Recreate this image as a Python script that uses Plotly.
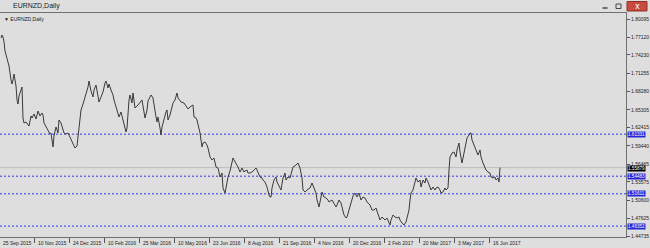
import plotly.graph_objects as go

# ---------------- data ----------------
bar_index = [0,1,2,3,4,5,7,8,10,11,12,13,14,15,16,17,18,19,20,21,22,23,25,27,28,30,31,33,35,37,39,41,42,43,45,47,49,50,52,53,55,57,58,60,62,63,65,67,68,70,72,74,76,78,80,82,84,85,87,88,90,92,93,95,96,97,98,100,102,104,105,107,108,110,112,113,115,117,118,120,122,123,
             124,125,126,127,128,129,130,131,132,133,134,137,139,141,142,144,146,147,149,150,152,154,155,156,157,159,160,161,163,165,166,167,169,171,172,174,176,177,179,180,183,185,187,189,192,193,195,196,197,199,201,202,204,206,207,209,211,213,215,217,219,220,221,222,223,224,225,226,227,229,230,232,233,235,237,239,240,241,243,244,246,247,
             249,251,253,255,256,258,259,261,262,264,266,268,269,270,271,273,275,276,278,280,282,284,285,287,289,291,292,295,297,299,300,301,302,304,306,309,311,313,315,316,318,320,321,323,325,327,328,331,333,335,336,338,340,341,343,345,346,348,350,351,352,354,356,358,360,362,364,366,368,369,371,
             373,375,377,379,381,384,386,388,389,390,392,394,396,398,399,401,403,405,406,408,409,410,412,414,415,417,419,420,422,424,425,427,429,430,432,434,435,437,439,440,442,444,445,447,448,449,451,453,455,456,458,459,461,463,465,466,468,469,470,471,473,475,477,479,480,482,484,485,487,489,490,492,494,495,497,498,499]

close = [1.7700,1.7749,1.7716,1.7635,1.7488,1.7423,1.7309,1.7244,1.7016,1.6950,1.7016,1.7113,1.7016,1.6918,1.6690,1.6624,1.6755,1.6820,1.6853,1.6901,1.6396,1.6315,1.6331,1.6282,1.6266,1.6429,1.6396,1.6462,1.6380,1.6510,1.6429,1.6478,1.6445,1.6315,1.6250,1.6184,1.6136,1.6152,1.5924,1.6103,1.6250,1.6152,1.6364,1.6315,1.6201,1.6152,1.6136,1.6152,1.6119,1.6038,1.5989,1.5907,1.5940,1.6201,1.6527,1.6624,1.6722,1.6771,1.6901,1.6999,1.6836,1.6739,1.6853,1.6934,1.6820,1.6739,1.6657,1.6739,1.6820,1.6967,1.6999,1.6885,1.6950,1.6853,1.6771,1.6690,1.6576,1.6462,1.6413,1.6494,1.6364,1.6266,
         1.6184,1.6168,1.6233,1.6494,1.6690,1.6771,1.6690,1.6641,1.6804,1.6690,1.6559,1.6608,1.6641,1.6690,1.6592,1.6396,1.6527,1.6673,1.6739,1.6771,1.6722,1.6478,1.6413,1.6331,1.6413,1.6233,1.6119,1.6250,1.6396,1.6494,1.6527,1.6364,1.6445,1.6576,1.6641,1.6690,1.6804,1.6722,1.6673,1.6657,1.6641,1.6592,1.6543,1.6576,1.6608,1.6413,1.6396,1.6364,1.6282,1.6152,1.5924,1.5989,1.6005,1.5956,1.5907,1.5761,1.5712,1.5745,1.5598,1.5582,1.5435,1.5468,1.5500,1.5256,1.5190,1.5174,1.5256,1.5337,1.5435,1.5533,1.5598,1.5745,1.5712,1.5663,1.5598,1.5516,1.5549,1.5582,1.5516,1.5533,1.5549,1.5500,
         1.5500,1.5516,1.5549,1.5582,1.5549,1.5484,1.5435,1.5419,1.5386,1.5353,1.5272,1.5142,1.5109,1.5109,1.5256,1.5386,1.5435,1.5353,1.5272,1.5223,1.5419,1.5500,1.5386,1.5435,1.5419,1.5549,1.5598,1.5630,1.5663,1.5582,1.5516,1.5419,1.5223,1.5190,1.5223,1.5256,1.5337,1.5256,1.5174,1.5060,1.4946,1.5109,1.5190,1.5109,1.5093,1.5060,1.5028,1.5060,1.5011,1.4946,1.4979,1.5060,1.5011,1.4930,1.4816,1.4767,1.4783,1.4897,1.5028,1.5093,1.5125,1.5174,1.5109,1.5174,1.5060,1.5109,1.5093,1.5028,1.4995,1.4979,1.4897,
         1.4897,1.4930,1.4848,1.4734,1.4783,1.4734,1.4767,1.4702,1.4653,1.4734,1.4816,1.4783,1.4767,1.4783,1.4734,1.4685,1.4653,1.4702,1.4767,1.4897,1.5060,1.5174,1.5223,1.5337,1.5419,1.5353,1.5386,1.5272,1.5386,1.5337,1.5419,1.5353,1.5272,1.5223,1.5272,1.5223,1.5256,1.5272,1.5223,1.5174,1.5190,1.5256,1.5223,1.5256,1.5549,1.5761,1.5826,1.5842,1.5761,1.5875,1.5989,1.5842,1.5663,1.5826,1.5956,1.6070,1.6119,1.6152,1.6152,1.6038,1.5956,1.5875,1.5793,1.5875,1.5761,1.5663,1.5582,1.5549,1.5516,1.5500,1.5435,1.5419,1.5435,1.5386,1.5419,1.5353,1.5588]

price_ticks = [1.80095, 1.77120, 1.74230, 1.71255, 1.68280, 1.65305, 1.62415,
               1.59440, 1.56465, 1.53575, 1.50600, 1.47625, 1.44735]

date_tick_bars = [0, 35, 70, 105, 140, 175, 210, 245, 280, 315, 350, 385, 420, 455, 490]
date_labels = ["25 Sep 2015", "10 Nov 2015", "24 Dec 2015", "10 Feb 2016", "25 Mar 2016",
               "10 May 2016", "23 Jun 2016", "8 Aug 2016", "21 Sep 2016", "4 Nov 2016",
               "20 Dec 2016", "2 Feb 2017", "20 Mar 2017", "3 May 2017", "16 Jun 2017"]

level_lines = [1.61331, 1.54483, 1.51611, 1.46352]
current_price = 1.55879

symbol_title = "EURNZD,Daily"

# ---------------- layout geometry ----------------
W, H = 650, 248
PL, PR, PT, PB = 0, 626, 13, 237
FONT = "Liberation Sans"
BG = "#DEDEDE"


def pxx(px):
    return (px - PL) / (PR - PL)


def pxy(py):
    return (PB - py) / (PB - PT)


fig = go.Figure()

# current price (bid) line
fig.add_shape(type="line", xref="paper", yref="y", x0=0, x1=1,
              y0=current_price, y1=current_price,
              line=dict(color="#BDBDBD", width=1), layer="below")

# horizontal level lines
for lv in level_lines:
    fig.add_shape(type="line", xref="paper", yref="y", x0=0, x1=1, y0=lv, y1=lv,
                  line=dict(color="#3434E8", width=1, dash="2px,2px"), layer="below")

fig.add_trace(go.Scatter(x=bar_index, y=close, mode="lines",
                         line=dict(color="#3A3A3A", width=1),
                         hoverinfo="skip", showlegend=False))

shapes = []
# title bar
shapes.append(dict(type="rect", xref="paper", yref="paper", x0=pxx(0), x1=pxx(W),
                   y0=pxy(6), y1=pxy(-1), fillcolor="#E2E9F2", line=dict(width=0)))
shapes.append(dict(type="rect", xref="paper", yref="paper", x0=pxx(0), x1=pxx(W),
                   y0=pxy(12.5), y1=pxy(6), fillcolor="#D3DCE9", line=dict(width=0)))
# title icon
shapes.append(dict(type="rect", xref="paper", yref="paper", x0=pxx(1.5), x1=pxx(9),
                   y0=pxy(10), y1=pxy(3), fillcolor="#7C9CD0", line=dict(color="#4A6AA0", width=1)))
# window buttons
for (a, b) in [(599, 611), (613, 624)]:
    shapes.append(dict(type="rect", xref="paper", yref="paper", x0=pxx(a), x1=pxx(b),
                       y0=pxy(11), y1=pxy(1.5), fillcolor="#DCE4EF",
                       line=dict(color="#8E9CB2", width=1)))
shapes.append(dict(type="line", xref="paper", yref="paper", x0=pxx(602.5), x1=pxx(607.5),
                   y0=pxy(8), y1=pxy(8), line=dict(color="#404850", width=1.5)))
shapes.append(dict(type="rect", xref="paper", yref="paper", x0=pxx(616), x1=pxx(621),
                   y0=pxy(8.5), y1=pxy(4), line=dict(color="#404850", width=1)))
shapes.append(dict(type="rect", xref="paper", yref="paper", x0=pxx(627), x1=pxx(647),
                   y0=pxy(11), y1=pxy(1.5), fillcolor="#C94A3E",
                   line=dict(color="#8E3028", width=1)))

annotations = []
annotations.append(dict(x=pxx(637), y=pxy(6.3), xref="paper", yref="paper", text="x",
                        showarrow=False, font=dict(family="DejaVu Sans", size=8, color="white"),
                        xanchor="center", yanchor="middle"))
annotations.append(dict(x=pxx(11), y=pxy(6.5), xref="paper", yref="paper", text=symbol_title,
                        showarrow=False, font=dict(family=FONT, size=7, color="#1A1A1A"),
                        xanchor="left", yanchor="middle"))
annotations.append(dict(x=pxx(2), y=pxy(19), xref="paper", yref="paper",
                        text="\u25bc " + symbol_title,
                        showarrow=False, font=dict(family=FONT, size=5, color="#1A1A1A"),
                        xanchor="left", yanchor="middle"))

# date labels (left aligned next to tick marks)
for b, t in zip(date_tick_bars, date_labels):
    annotations.append(dict(x=b - 0.5, y=pxy(242.5), xref="x", yref="paper", text=t,
                            showarrow=False, font=dict(family=FONT, size=5, color="#222222"),
                            xanchor="left", yanchor="middle"))

# price boxes
for lv in level_lines:
    annotations.append(dict(x=1, y=lv, xref="paper", yref="y", text=f"{lv:.5f}",
                            showarrow=False, font=dict(family=FONT, size=4.6, color="white"),
                            xanchor="left", yanchor="middle", bgcolor="#2626D8",
                            borderpad=0, xshift=1))
annotations.append(dict(x=1, y=current_price, xref="paper", yref="y",
                        text=f"{current_price:.5f}",
                        showarrow=False, font=dict(family=FONT, size=4.6, color="white"),
                        xanchor="left", yanchor="middle", bgcolor="#000000",
                        borderpad=0, xshift=1, yshift=-0.5))

y_top = 1.80095 + (19 - PT) * 0.0016295
y_bot = 1.80095 - (PB - 19) * 0.0016295

fig.update_layout(
    width=W, height=H,
    margin=dict(l=PL, r=W - PR, t=PT, b=H - PB, pad=0),
    paper_bgcolor=BG, plot_bgcolor=BG,
    showlegend=False,
    shapes=shapes,
    annotations=annotations,
    xaxis=dict(range=[-1, PR - PL - 1], showgrid=False, zeroline=False,
               showline=True, mirror=True, linecolor="#707070", linewidth=1,
               tickvals=[b - 2 for b in date_tick_bars if b > 0],
               ticks="outside", ticklen=5, tickcolor="#555555", tickwidth=1,
               showticklabels=False, fixedrange=True),
    yaxis=dict(range=[y_bot, y_top], side="right", showgrid=False, zeroline=False,
               showline=True, mirror=True, linecolor="#707070", linewidth=1,
               tickvals=price_ticks, ticktext=[f"{v:.5f}" for v in price_ticks],
               ticks="outside", ticklen=3, tickcolor="#555555", tickwidth=1,
               tickfont=dict(family=FONT, size=5, color="#222222"), fixedrange=True),
)

fig.write_html("out.html")
